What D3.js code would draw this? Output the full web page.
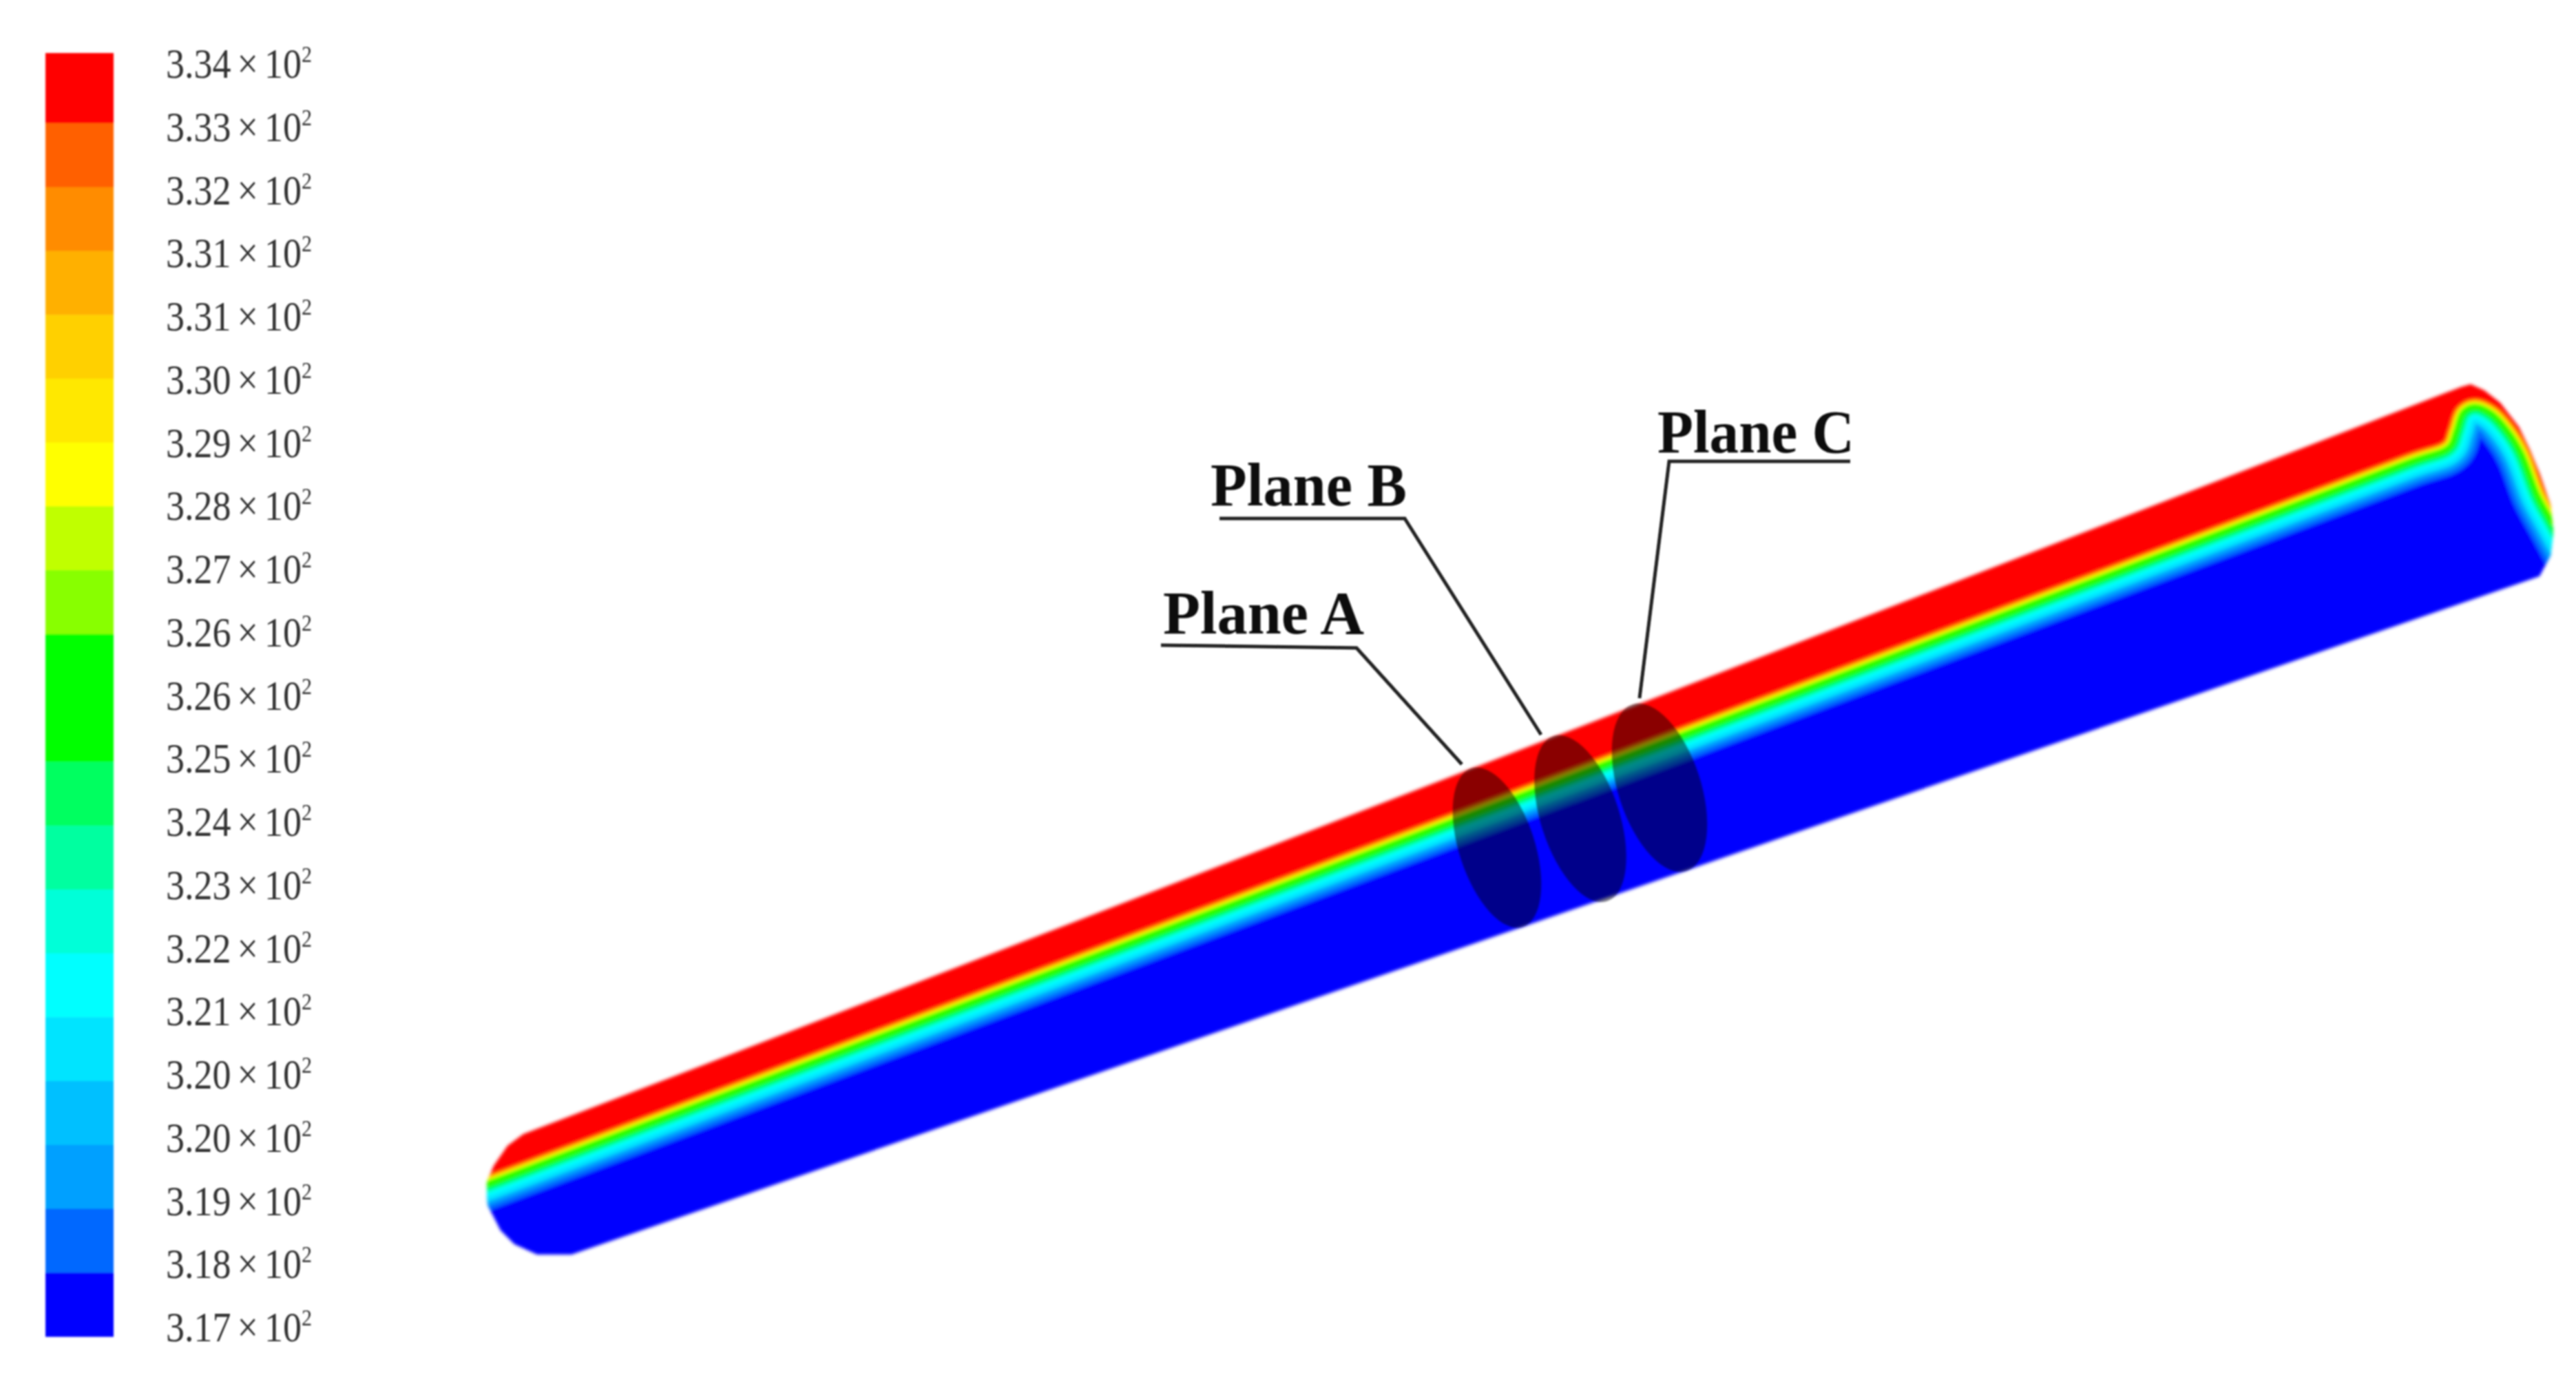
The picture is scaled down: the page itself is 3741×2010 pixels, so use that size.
<!DOCTYPE html>
<html>
<head>
<meta charset="utf-8">
<title>Temperature contour</title>
<script src="https://cdn.jsdelivr.net/npm/d3@7"></script>
<style>
    html, body { margin: 0; padding: 0; background: #fff; overflow: hidden; }
    svg { display: block; }
</style>
</head>
<body>
<div class="chart"></div>
<script>
// legend values, top to bottom
var tickLabels = ["3.34", "3.33", "3.32", "3.31", "3.31", "3.30", "3.29", "3.28", "3.27", "3.26", "3.26",
    "3.25", "3.24", "3.23", "3.22", "3.21", "3.20", "3.20", "3.19", "3.18", "3.17"];
var bandColors = ["#ff0000", "#ff6000", "#ff8c00", "#ffb000", "#ffd000", "#ffe800", "#ffff00", "#c0ff00", "#88ff00", "#00ff00",
    "#00ff00", "#00ff60", "#00ffa0", "#00ffd8", "#00ffff", "#00e4ff", "#00c0ff", "#00a0ff", "#0068ff", "#0000ff"];

// tube silhouette and hot/cold interface
var outlineX = [707, 717, 737, 760, 987, 3574, 3588, 3608, 3631, 3658, 3674, 3688, 3704, 3708, 3704, 3688, 830, 780, 747, 727, 708];
var outlineY = [1717, 1693, 1664, 1647, 1560, 562, 558, 567, 585, 620, 653, 687, 733, 773, 807, 837, 1822, 1822, 1807, 1787, 1750];
var interfaceX = [690, 710, 2100, 3500, 3558, 3568, 3578, 3594, 3618, 3641, 3661, 3684, 3704, 3730];
var interfaceY = [1727, 1720, 1198, 672, 650, 627, 600, 592, 602, 627, 660, 720, 757, 805];

// section planes
var planeNames = ["Plane A", "Plane B", "Plane C"];
var planeCx = [2174, 2295, 2410];
var planeCy = [1231, 1189, 1144];
var planeRx = [55, 57, 60];
var planeRy = [121, 126, 127];
var planeTilt = [-18, -18, -18];
var labelX = [1689, 1758, 2407];
var labelY = [920, 734, 657];
var labelW = [292, 285, 286];
var leaderX = [[1686, 1970, 2123], [1771, 2040, 2238], [2687, 2424, 2381]];
var leaderY = [[937, 941, 1110], [753, 753, 1067], [670, 670, 1014]];

var svgWidth = 3741;
var svgHeight = 2010;

var svg = d3.select(".chart").append("svg")
    .attr("width", svgWidth)
    .attr("height", svgHeight);

var defs = svg.append("defs");

function addBlur(id, amount) {
    defs.append("filter")
        .attr("id", id)
        .attr("filterUnits", "userSpaceOnUse")
        .attr("x", 0).attr("y", 0)
        .attr("width", svgWidth).attr("height", svgHeight)
        .append("feGaussianBlur")
        .attr("stdDeviation", amount);
}
addBlur("soft", 2.5);
addBlur("softBar", 1.5);
addBlur("softText", 1.3);
addBlur("softLabel", 0.9);

svg.append("rect").attr("width", svgWidth).attr("height", svgHeight).attr("fill", "#fff");

// picture coordinates -> page
var x = d3.scaleLinear().domain([0, 3741]).range([0, svgWidth]);
var y = d3.scaleLinear().domain([0, 2010]).range([0, svgHeight]);

// --- colour bar
var barY = d3.scaleLinear().domain([0, 1, bandColors.length]).range([77, 179, 1941]);
var tickY = d3.scaleLinear().domain([0, tickLabels.length - 1]).range([113, 1948]);

svg.append("g")
    .attr("filter", "url(#softBar)")
    .selectAll("rect")
    .data(bandColors)
    .enter()
    .append("rect")
    .attr("x", 66)
    .attr("width", 99)
    .attr("y", function(d, i) { return barY(i); })
    .attr("height", function(d, i) { return barY(i + 1) - barY(i) + 0.5; })
    .attr("fill", function(d) { return d; });

var ticks = svg.append("g")
    .attr("filter", "url(#softText)")
    .attr("font-family", "'Liberation Serif', serif")
    .attr("font-size", 54)
    .attr("fill", "#333")
    .selectAll("text")
    .data(tickLabels)
    .enter()
    .append("text")
    .attr("transform", function(d, i) { return "translate(241," + tickY(i) + ") scale(1,1.15)"; });
ticks.append("tspan").text(function(d) { return d; });
ticks.append("tspan").attr("dx", 9).text("×");
ticks.append("tspan").attr("dx", 9).text("10");
ticks.append("tspan").attr("dy", -20).attr("font-size", 30).text("2");

// --- tube
var interfacePoints = d3.zip(interfaceX, interfaceY);
var interfaceLine = d3.line()
    .x(function(d) { return x(d[0]); })
    .y(function(d) { return y(d[1]); })
    .curve(d3.curveCatmullRom.alpha(0.5));
var interfacePath = interfaceLine(interfacePoints);

defs.append("clipPath").attr("id", "tubeClip")
    .append("path")
    .attr("d", d3.line().x(function(d) { return x(d[0]); }).y(function(d) { return y(d[1]); })(d3.zip(outlineX, outlineY)) + "Z");
defs.append("clipPath").attr("id", "hotClip")
    .append("path")
    .attr("d", interfacePath + "L" + svgWidth + ",805L" + svgWidth + ",0L0,0L0,1727Z");
defs.append("clipPath").attr("id", "coldClip")
    .append("path")
    .attr("d", interfacePath + "L" + svgWidth + ",805L" + svgWidth + "," + svgHeight + "L0," + svgHeight + "L0,1727Z");

// temperature -> distance from the interface, in px (negative = hot side)
var reach = d3.scaleLinear()
    .domain([317, 321.5, 325, 326, 328, 331, 334])
    .range([42, 13, 4.5, -4.5, -7, -10, -15]);
var temps = tickLabels.map(function(d) { return +d * 100; });

var tubeBlur = svg.append("g").attr("filter", "url(#soft)");
var tube = tubeBlur.append("g").attr("clip-path", "url(#tubeClip)");

var cold = tube.append("g").attr("clip-path", "url(#coldClip)");
cold.append("rect").attr("width", svgWidth).attr("height", svgHeight).attr("fill", bandColors[bandColors.length - 1]);
var hot = tube.append("g").attr("clip-path", "url(#hotClip)");
hot.append("rect").attr("width", svgWidth).attr("height", svgHeight).attr("fill", bandColors[0]);

function drawBands(group, order, edge) {
    group.selectAll("path.band")
        .data(order)
        .enter()
        .append("path")
        .attr("class", "band")
        .attr("d", interfacePath)
        .attr("fill", "none")
        .attr("stroke-linejoin", "round")
        .attr("stroke", function(i) { return bandColors[i]; })
        .attr("stroke-width", function(i) { return 2 * Math.abs(reach(temps[i + edge])); });
}
// widest stroke first so the narrow ones sit on top
drawBands(cold, d3.range(18, 9, -1), 1);
drawBands(hot, d3.range(1, 10), 0);

// --- section planes
svg.append("g")
    .attr("filter", "url(#softBar)")
    .selectAll("ellipse")
    .data(planeNames)
    .enter()
    .append("ellipse")
    .attr("rx", function(d, i) { return planeRx[i]; })
    .attr("ry", function(d, i) { return planeRy[i]; })
    .attr("transform", function(d, i) {
        return "translate(" + x(planeCx[i]) + "," + y(planeCy[i]) + ") rotate(" + planeTilt[i] + ")";
    })
    .attr("fill", "#000")
    .attr("fill-opacity", 0.46);

// --- leaders and names
var notes = svg.append("g").attr("filter", "url(#softLabel)");
notes.selectAll("path")
    .data(planeNames)
    .enter()
    .append("path")
    .attr("d", function(d, i) {
        return d3.line().x(function(p) { return x(p[0]); }).y(function(p) { return y(p[1]); })(d3.zip(leaderX[i], leaderY[i]));
    })
    .attr("fill", "none")
    .attr("stroke", "#222")
    .attr("stroke-width", 5);
notes.selectAll("text")
    .data(planeNames)
    .enter()
    .append("text")
    .attr("x", function(d, i) { return x(labelX[i]); })
    .attr("y", function(d, i) { return y(labelY[i]); })
    .attr("textLength", function(d, i) { return labelW[i]; })
    .attr("lengthAdjust", "spacingAndGlyphs")
    .attr("font-family", "'Liberation Serif', serif")
    .attr("font-weight", "bold")
    .attr("font-size", 88)
    .attr("fill", "#111")
    .text(function(d) { return d; });
</script>
</body>
</html>
